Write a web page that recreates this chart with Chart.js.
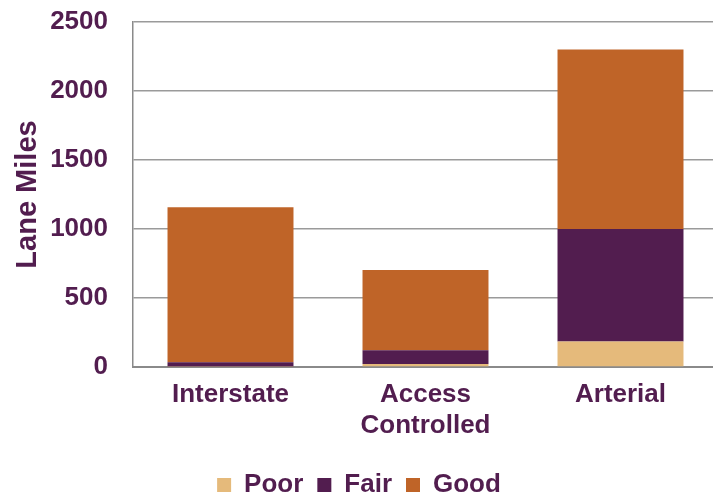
<!DOCTYPE html>
<html>
<head>
<meta charset="utf-8">
<script src="https://cdn.jsdelivr.net/npm/chart.js@4"></script>
<style>
  html, body { margin: 0; padding: 0; background: #fff; overflow: hidden; }
  #wrap { position: relative; width: 731px; height: 496px; }
</style>
</head>
<body>
<div id="wrap"><canvas id="chart"></canvas></div>
<script>
const categories = ['Interstate', ['Access', 'Controlled'], 'Arterial'];
const poor = [3, 22, 185];
const fair = [31, 99, 815];
const good = [1124, 582, 1300];
const yTicks = [0, 500, 1000, 1500, 2000, 2500];

const ink = '#521D4F';
const font = { family: '"Liberation Sans", Arial, sans-serif', size: 26, weight: 'bold' };

new Chart(document.getElementById('chart'), {
  type: 'bar',
  data: {
    labels: categories,
    datasets: [
      { label: 'Poor', data: poor, backgroundColor: '#E5BA7B' },
      { label: 'Fair', data: fair, backgroundColor: '#521D4F' },
      { label: 'Good', data: good, backgroundColor: '#BF6428' }
    ]
  },
  options: {
    responsive: true,
    maintainAspectRatio: false,
    animation: false,
    datasets: { bar: { categoryPercentage: 1, barPercentage: 0.646 } },
    layout: { padding: { top: 22, right: 13, bottom: -12, left: 0 } },
    plugins: {
      tooltip: { enabled: false },
      legend: {
        position: 'bottom',
        labels: { color: ink, font, boxWidth: 14, boxHeight: 14, padding: 14 }
      }
    },
    scales: {
      x: {
        stacked: true,
        grid: { display: false, drawTicks: false },
        border: { color: '#8a8a8a', width: 2 },
        ticks: { color: ink, font, padding: 12, maxRotation: 0 },
        afterFit: (s) => { s.height = 91; }
      },
      y: {
        stacked: true,
        min: yTicks[0],
        max: yTicks[yTicks.length - 1],
        afterBuildTicks: (s) => { s.ticks = yTicks.map((v) => ({ value: v })); },
        grid: { color: '#9a9a9a', lineWidth: 1.5, drawTicks: false },
        border: { color: '#8a8a8a', width: 1.5 },
        ticks: { color: ink, font, padding: 25, callback: (v) => String(v) },
        title: { display: true, text: 'Lane Miles', color: ink, font: { ...font, size: 29 }, padding: { top: 11, bottom: 0 } },
        afterFit: (s) => { s.width = 133; s.paddingTop = 0; s.paddingBottom = 0; }
      }
    }
  }
});
</script>
</body>
</html>
